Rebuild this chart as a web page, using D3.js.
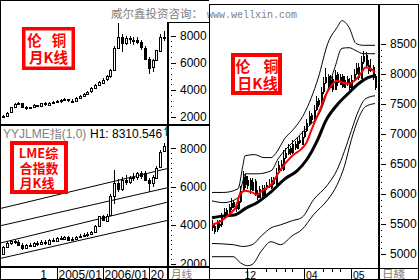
<!DOCTYPE html>
<html>
<head>
<meta charset="utf-8">
<script src="https://cdn.jsdelivr.net/npm/d3@7"></script>
<style>
  body { margin: 0; background: #fff; }
  svg { display: block; }
</style>
</head>
<body>
<div id="chart"></div>
<script>
// monthly bars, 2003/11 .. 2007/05
const months = ["2003/11","2003/12","2004/01","2004/02","2004/03","2004/04","2004/05","2004/06","2004/07","2004/08","2004/09","2004/10","2004/11","2004/12",
  "2005/01","2005/02","2005/03","2005/04","2005/05","2005/06","2005/07","2005/08","2005/09","2005/10","2005/11","2005/12",
  "2006/01","2006/02","2006/03","2006/04","2006/05","2006/06","2006/07","2006/08","2006/09","2006/10","2006/11","2006/12",
  "2007/01","2007/02","2007/03","2007/04","2007/05"];

// LME copper, monthly
const cuOpen  = [2000,2100,2300,2700,2950,3000,2700,2650,2700,2850,2800,3000,2900,3050,3100,3150,3250,3300,3200,3150,3400,3550,3700,3850,4100,4350,4550,4750,5000,5450,7100,7900,7450,7800,7700,7650,7500,7100,6300,5650,6200,6900,7800];
const cuHigh  = [2150,2350,2750,3050,3100,3050,2800,2750,2950,2900,3050,3100,3100,3150,3250,3300,3400,3350,3300,3450,3600,3750,3900,4200,4400,4650,4850,5100,5550,7200,8900,8100,8000,8000,7900,7900,7650,7200,6400,6300,6950,8100,8350];
const cuLow   = [1950,2050,2280,2650,2850,2650,2500,2600,2650,2700,2750,2800,2850,2950,3000,3050,3150,3100,3050,3100,3350,3500,3650,3800,4050,4300,4450,4650,4900,5350,7000,6800,7300,7400,7300,7350,6950,6200,5200,5300,6100,6850,7600];
const cuClose = [2100,2300,2700,2950,3000,2700,2650,2700,2850,2800,3000,2900,3050,3100,3150,3250,3300,3200,3150,3400,3550,3700,3850,4100,4350,4550,4750,5000,5450,7100,7900,7450,7800,7700,7650,7500,7100,6300,5650,6200,6900,7900,7900];

// LME index, monthly
const lmeOpen  = [2500,2850,3050,3150,3100,2950,2800,2950,2900,3050,3000,3100,3050,3250,3200,3350,3300,3400,3250,3300,3400,3450,3500,3550,3650,3950,4450,4250,4500,5500,6200,5900,6350,6250,6450,6500,6700,6700,6350,6200,6500,7000,7850];
const lmeHigh  = [2900,3150,3200,3250,3200,3050,3000,3050,3100,3150,3200,3200,3300,3350,3400,3450,3450,3450,3400,3450,3550,3600,3650,3700,4000,4500,4550,4600,5600,6850,6400,6500,6600,6550,6700,6750,6800,6800,6450,6600,7100,7900,8300];
const lmeLow   = [2450,2800,2950,3000,2900,2700,2750,2850,2850,2900,2950,2950,3000,3150,3150,3250,3250,3200,3200,3250,3350,3400,3400,3500,3600,3900,4200,4200,4450,5100,5700,5800,6100,6150,6300,6350,6400,6300,5700,6000,6400,6950,7800];
const lmeClose = [2850,3050,3150,3100,2950,2800,2950,2900,3050,3000,3100,3050,3250,3200,3350,3300,3400,3250,3300,3400,3450,3500,3550,3650,3950,4450,4250,4500,5500,6200,5900,6350,6250,6450,6500,6700,6550,6350,6200,6500,7000,7800,8100];

// channel lines on the index panel: value at month index -1 and at 43
const channelStart = [4850, 3950, 3050, 2250];
const channelEnd   = [6950, 5950, 5200, 4250];

// LME copper, daily (70 sessions)
const dOpen  = [5500,5460,5400,5500,5480,5620,5720,5650,5790,5860,5810,5760,5880,6060,6290,6140,6230,6070,6210,6010,5940,6090,5970,6110,6140,6110,6230,6170,6360,6490,6410,6610,6690,6760,6690,6830,6770,6890,6840,6960,7060,7190,7310,7240,7410,7560,7490,7710,7860,7960,7790,7910,7740,7990,7840,7960,7790,7910,7860,7770,7910,8010,8110,7940,8210,8310,8140,8060,8110,7960];
const dHigh  = [5560,5500,5560,5560,5680,5760,5760,5830,5920,5900,5850,5930,6120,6380,6330,6300,6260,6260,6240,6060,6120,6140,6140,6200,6240,6280,6270,6420,6550,6560,6720,6760,6820,6800,6900,6880,6950,6960,7050,7120,7250,7380,7350,7480,7620,7600,7780,7950,8100,8000,7980,7960,8060,8020,8000,8000,7960,7960,7920,7980,8080,8180,8180,8300,8380,8360,8220,8250,8150,8000];
const dLow   = [5380,5330,5360,5420,5450,5580,5600,5620,5720,5760,5700,5720,5840,6020,6100,6080,6000,6040,5960,5900,5920,5940,5930,6060,6090,6080,6140,6150,6320,6380,6380,6570,6640,6650,6660,6730,6740,6820,6820,6920,7020,7150,7180,7200,7380,7450,7460,7660,7820,7760,7760,7700,7720,7800,7820,7760,7760,7800,7720,7740,7880,7980,7900,7920,8160,8100,8000,8020,7900,7720];
const dClose = [5450,5380,5520,5480,5620,5700,5660,5780,5850,5800,5760,5880,6050,6280,6150,6220,6080,6200,6000,5950,6080,5980,6100,6150,6120,6220,6180,6350,6480,6420,6600,6680,6750,6700,6820,6780,6880,6850,6950,7050,7180,7300,7250,7400,7550,7500,7700,7850,7950,7800,7900,7750,7980,7850,7950,7800,7900,7850,7780,7900,8000,8100,7950,8200,8300,8150,8050,8100,7950,7780];

// indicator lines: [session, value]
const maShort = [[0,5480],[4,5550],[8,5680],[10,5770],[12,6000],[14,6050],[17,6020],[19,5980],[21,6040],[25,6150],[29,6400],[34,6630],[38,6750],[40,6850],[42,7050],[46,7430],[48,7630],[50,7770],[53,7880],[55,7850],[58,7830],[60,7870],[63,8000],[65,8100],[67,8080],[69,8020]];
const maLong  = [[0,5600],[5,5630],[10,5650],[14,5750],[19,5850],[25,6030],[31,6250],[36,6380],[40,6560],[45,6920],[48,7200],[53,7480],[58,7680],[62,7830],[66,7930],[69,7970]];
const bandUp2 = [[0,6020],[5,6020],[11,6080],[13,6450],[14,6630],[18,6650],[22,6600],[25,6600],[27,6670],[31,6930],[34,7050],[39,7330],[45,7930],[49,8500],[53,8770],[55,8880],[58,8770],[61,8500],[64,8470],[69,8470]];
const bandUp1 = [[0,5880],[5,5850],[11,5930],[13,6200],[14,6330],[19,6330],[25,6380],[28,6580],[34,6850],[39,7050],[46,7380],[52,8100],[55,8420],[58,8430],[61,8380],[64,8330],[69,8330]];
const bandLo1 = [[0,5170],[9,5150],[13,5120],[17,5150],[21,5300],[25,5430],[29,5480],[34,5550],[38,5600],[43,5900],[49,6150],[53,6400],[56,6700],[59,7050],[62,7380],[65,7580],[69,7630]];
const bandLo2 = [[0,4950],[9,4950],[12,4850],[15,4800],[17,4820],[21,5050],[25,5200],[29,5150],[34,5300],[38,5400],[43,5650],[49,5900],[53,6150],[56,6450],[59,6900],[62,7250],[65,7450],[69,7500]];

// tick labels
const leftTicks = [2000, 4000, 6000, 8000];
const rightTicks = [5000, 5500, 6000, 6500, 7000, 7500, 8000, 8500];
const monthMarks = [{i: 14, label: "2005/01"}, {i: 26, label: "2006/01"}, {i: 38, label: "2007/01"}];
const dayMarks = [{i: 15, label: "12"}, {i: 39, label: "04"}, {i: 59, label: "05"}];
const dayMinor = [23, 27, 31, 34, 47, 51, 54];

const W = 420, H = 280;
const sans = "'Liberation Sans', Arial, sans-serif";
const cjk = "'Noto Sans CJK SC', sans-serif";

const svg = d3.select("#chart").append("svg")
    .attr("width", W).attr("height", H)
    .style("font-family", sans);

const defs = svg.append("defs");
function clip(id, x, y, w, h) {
    defs.append("clipPath").attr("id", id).append("rect")
        .attr("x", x).attr("y", y).attr("width", w).attr("height", h);
    return "url(#" + id + ")";
}

// scales
const xMonth = d3.scaleLinear().domain([0, 42]).range([3, 164]);
const yTop = d3.scaleLinear().domain([2000, 8000]).range([117, 35.5]);
const yBot = d3.scaleLinear().domain([2000, 8000]).range([263.5, 148.3]);
const xDay = d3.scaleLinear().domain([0, 69]).range([212, 375]);
const yDay = d3.scaleLinear().domain([5000, 8500]).range([253.7, 43.5]);

function candles(g, xs, ys, open, high, low, close, half) {
    const data = open.map((o, i) => ({i: i, o: o, h: high[i], l: low[i], c: close[i]}));
    const cg = g.selectAll(null).data(data).join("g");
    cg.append("line")
        .attr("x1", d => Math.round(xs(d.i)) + 0.5)
        .attr("x2", d => Math.round(xs(d.i)) + 0.5)
        .attr("y1", d => ys(d.h)).attr("y2", d => ys(d.l))
        .attr("stroke", "#000").attr("shape-rendering", "crispEdges");
    cg.append("rect")
        .attr("x", d => Math.round(xs(d.i)) - half + 0.5)
        .attr("y", d => Math.round(ys(Math.max(d.o, d.c))) + 0.5)
        .attr("width", half * 2)
        .attr("height", d => Math.max(1, Math.round(Math.abs(ys(d.o) - ys(d.c)))))
        .attr("fill", d => d.c >= d.o ? "#fff" : "#000")
        .attr("stroke", "#000").attr("shape-rendering", "crispEdges");
}

function yAxis(x, scale, values, minorStep) {
    const g = svg.append("g").attr("transform", "translate(" + x + ",0)");
    const [lo, hi] = scale.domain();
    g.append("g").call(d3.axisRight(scale).tickValues(d3.range(lo, hi + 1, minorStep)).tickSize(1).tickFormat(""))
        .call(a => a.select(".domain").remove());
    g.append("g").call(d3.axisRight(scale).tickValues(values).tickSize(5).tickPadding(4).tickFormat(d3.format("d")))
        .call(a => a.select(".domain").remove())
        .call(a => a.selectAll("text").attr("font-size", 12).attr("font-family", sans).attr("fill", "#000"));
    g.selectAll("line").attr("stroke", "#000").attr("shape-rendering", "crispEdges");
}

function hline(x1, x2, y, w) {
    svg.append("line").attr("x1", x1).attr("x2", x2).attr("y1", y).attr("y2", y)
        .attr("stroke", "#000").attr("stroke-width", w || 1).attr("shape-rendering", "crispEdges");
}
function vline(x, y1, y2, w) {
    svg.append("line").attr("x1", x).attr("x2", x).attr("y1", y1).attr("y2", y2)
        .attr("stroke", "#000").attr("stroke-width", w || 1).attr("shape-rendering", "crispEdges");
}

function redBox(x, y, w, h, sw, lines, size) {
    const g = svg.append("g");
    g.append("rect").attr("x", x + sw / 2).attr("y", y + sw / 2)
        .attr("width", w - sw).attr("height", h - sw)
        .attr("fill", "#fff").attr("stroke", "#ff0000").attr("stroke-width", sw);
    lines.forEach(l => {
        g.append("text").attr("x", l.x).attr("y", l.y).text(l.t)
            .attr("text-anchor", "middle").attr("font-family", cjk).attr("font-weight", "bold")
            .attr("font-size", size).attr("fill", "#ff0000");
    });
}

// ---------- title ----------
svg.append("text").attr("x", 111).attr("y", 18).text("威尔鑫投资咨询：")
    .attr("font-family", cjk).attr("font-size", 11.5).attr("fill", "#808080");
svg.append("text").attr("x", 207).attr("y", 17.5).text("www.wellxin.com")
    .attr("font-family", "'Liberation Mono', 'DejaVu Sans Mono', monospace").attr("font-size", 10).attr("fill", "#808080");

// ---------- top-left: copper monthly ----------
const gTop = svg.append("g").attr("clip-path", clip("cTop", 1, 20, 166, 103));
candles(gTop, xMonth, yTop, cuOpen, cuHigh, cuLow, cuClose, 1);
yAxis(171, yTop, leftTicks, 400);

// ---------- bottom-left: LME index monthly ----------
const gBot = svg.append("g").attr("clip-path", clip("cBot", 1, 126, 166, 140));
gBot.selectAll(null).data(channelStart).join("line")
    .attr("x1", xMonth(-1)).attr("x2", xMonth(43))
    .attr("y1", d => yBot(d)).attr("y2", (d, i) => yBot(channelEnd[i]))
    .attr("stroke", "#000");
candles(gBot, xMonth, yBot, lmeOpen, lmeHigh, lmeLow, lmeClose, 1);
yAxis(171, yBot, leftTicks, 250);

svg.append("text").attr("x", 3).attr("y", 137.5).attr("font-size", 12).attr("fill", "#808080")
    .text("YYJLME指(1,0)");
svg.append("text").attr("x", 90).attr("y", 137.5).attr("font-size", 12).attr("fill", "#000")
    .text("H1: 8310.546");
svg.append("line").attr("x1", 166.5).attr("x2", 166.5).attr("y1", 128).attr("y2", 136)
    .attr("stroke", "#008080").attr("stroke-width", 1.5);
svg.append("path").attr("d", "M164,130 L166.5,126 L169,130 Z").attr("fill", "#008080");

// ---------- right: copper daily ----------
const gDay = svg.append("g").attr("clip-path", clip("cDay", 210, 5, 167, 262));
candles(gDay, xDay, yDay, dOpen, dHigh, dLow, dClose, 0.5);
const line = d3.line().x(d => xDay(d[0])).y(d => yDay(d[1])).curve(d3.curveMonotoneX);
[bandUp2, bandUp1, bandLo1, bandLo2].forEach(b => {
    gDay.append("path").attr("d", line(b)).attr("fill", "none").attr("stroke", "#000").attr("stroke-width", 1);
});
gDay.append("path").attr("d", line(maLong)).attr("fill", "none").attr("stroke", "#000").attr("stroke-width", 3);
gDay.append("path").attr("d", line(maShort)).attr("fill", "none").attr("stroke", "#ff0000").attr("stroke-width", 2);
yAxis(381, yDay, rightTicks, 100);

// ---------- date rows ----------
svg.append("rect").attr("x", 0).attr("y", 267).attr("width", W).attr("height", 13).attr("fill", "#fff");
const gLeftDates = svg.append("g");
gLeftDates.selectAll(null).data(monthMarks).join("text")
    .attr("x", d => Math.round(xMonth(d.i)) + 1.5).attr("y", 278.5)
    .attr("font-size", 12).text(d => d.label)
    .each(function(d) {
        // cut the label where the price axis starts
        const room = 167 - (Math.round(xMonth(d.i)) + 1.5);
        let t = d.label;
        while (t.length > 1 && this.getComputedTextLength() > room) {
            t = t.slice(0, -1);
            d3.select(this).text(t);
        }
    });
gLeftDates.append("text").attr("x", Math.round(xMonth(14)) - 10).attr("y", 278.5)
    .attr("text-anchor", "end").attr("font-size", 12).text("1");
monthMarks.forEach(d => vline(Math.round(xMonth(d.i)) + 0.5, 267, 280));
svg.append("text").attr("x", 171).attr("y", 278).attr("font-family", cjk).attr("font-size", 10.5)
    .attr("fill", "#808080").text("月线");

dayMarks.forEach(d => vline(Math.round(xDay(d.i)) + 0.5, 268, 280));
dayMinor.forEach(i => vline(Math.round(xDay(i)) + 0.5, 268, 272));
svg.selectAll(null).data(dayMarks).join("text")
    .attr("x", (d, k) => Math.round(xDay(d.i)) + (k === 0 ? -2.5 : 2)).attr("y", 278.5)
    .attr("font-size", 10.5).text(d => d.label);
svg.append("text").attr("x", 382).attr("y", 278).attr("font-family", cjk).attr("font-size", 11.5)
    .attr("fill", "#808080").text("日綫");

// ---------- frame ----------
hline(0, 209, 0.5);
vline(0.5, 0, 280);
hline(167, 209, 22.5);
vline(168, 22, 280, 2);
vline(209.5, 4, 280);
hline(0, 210, 124.5, 2);
hline(0, 210, 266.5, 2);
hline(209, 419, 4.5);
vline(379, 4, 280, 2);
vline(418.5, 4, 280);
hline(209, 419, 268.5);
hline(0, 419, 279.5);

// ---------- red labels ----------
redBox(22, 27, 53, 43, 3.5, [
    {x: 34.5, y: 46, t: "伦"}, {x: 59, y: 46, t: "铜"}, {x: 48.5, y: 63, t: "月K线"}
], 14.5);
redBox(10, 141, 58, 53, 4, [
    {x: 38.5, y: 157.5, t: "LME综"}, {x: 39, y: 172.5, t: "合指数"}, {x: 37, y: 187.5, t: "月K线"}
], 13);
redBox(231, 53, 51, 42, 4, [
    {x: 243, y: 71.5, t: "伦"}, {x: 271, y: 71.5, t: "铜"}, {x: 257.5, y: 89, t: "日K线"}
], 15);
</script>
</body>
</html>
